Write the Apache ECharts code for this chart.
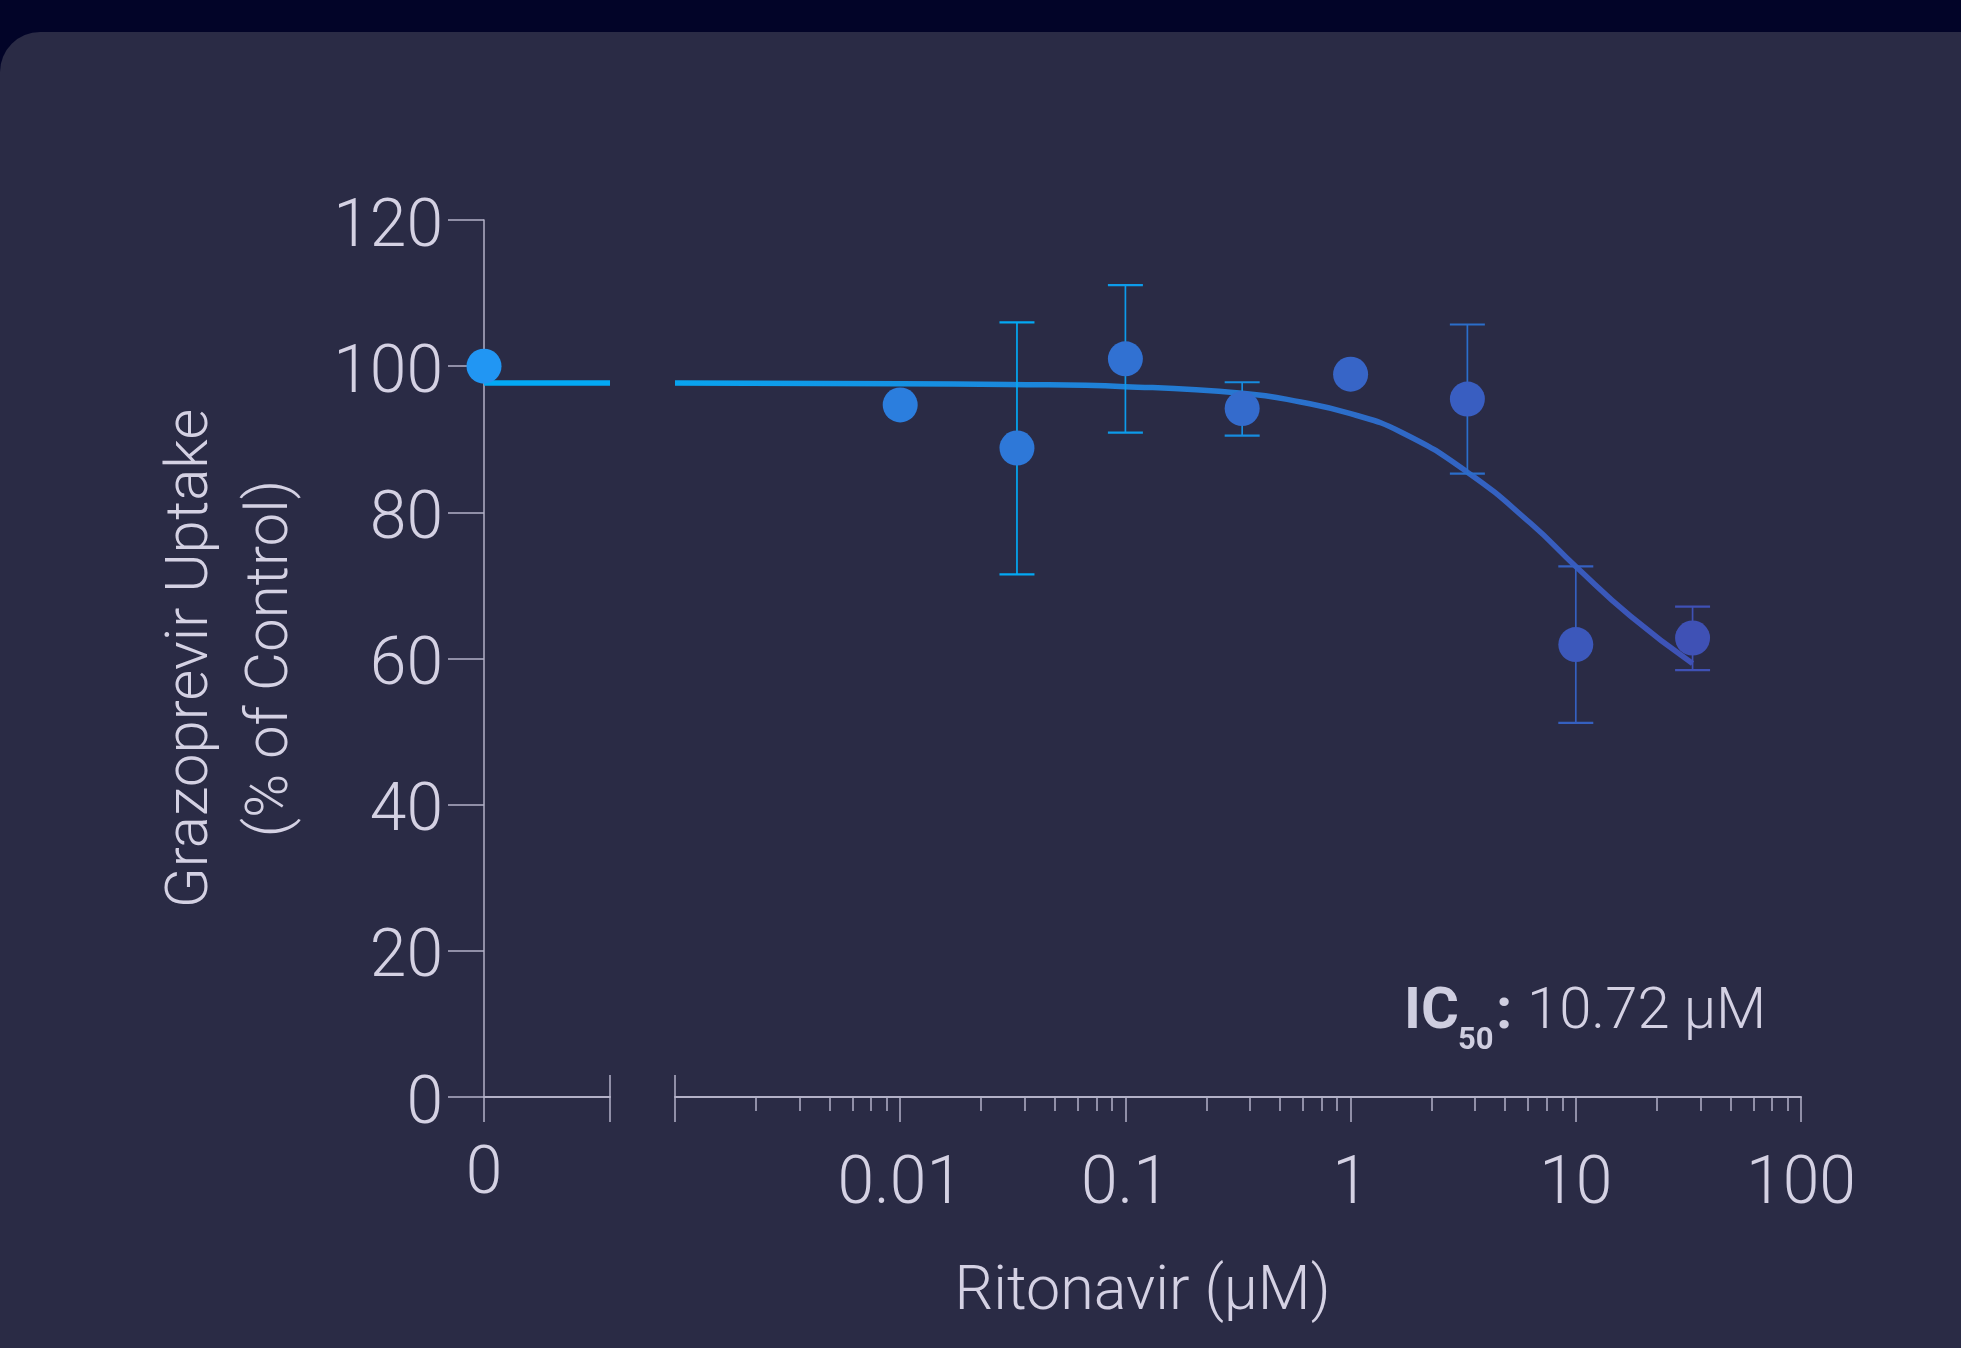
<!DOCTYPE html>
<html>
<head>
<meta charset="utf-8">
<title>Grazoprevir uptake vs ritonavir</title>
<script src="https://cdn.jsdelivr.net/npm/echarts@6.0.0/dist/echarts.min.js"></script>
<style>
  html, body { margin: 0; padding: 0; background: #020428; overflow: hidden; }
  #panel { position: absolute; left: 0; top: 32px; width: 2100px; height: 1400px;
           background: #2a2b45; border-top-left-radius: 40px; }
  #chart { position: absolute; left: 0; top: 0; width: 1961px; height: 1348px; }
</style>
</head>
<body>
<div id="panel"></div>
<div id="chart"></div>
<script>
  // vehicle control (0 µM), drawn on its own short axis segment
  var controlX = [0];
  var controlY = [100.0];
  var controlFitX = [0, 1];
  var controlFitY = [97.7, 97.7];

  // ritonavir concentrations (µM) and uptake (% of control)
  var concX = [0.01, 0.033, 0.1, 0.33, 1, 3.3, 10, 33];
  var meanY = [94.7, 88.8, 101.0, 94.2, 98.9, 95.5, 61.9, 62.8];
  var errLow = [null, 71.5, 90.9, 90.5, null, 85.3, 51.2, 58.4];
  var errHigh = [null, 106.0, 111.1, 97.8, null, 105.7, 72.6, 67.1];

  // fitted curve
  var fitX = [0.001, 0.01, 0.03, 0.1, 0.33, 0.6, 1, 1.67, 3.3, 6.3, 10, 17.5, 33];
  var fitY = [97.7, 97.6, 97.5, 97.2, 96.3, 95.1, 93.5, 91.0, 85.5, 78.5, 72.6, 65.8, 59.3];

  var xTickLabels = ['0.01', '0.1', '1', '10', '100'];
  var ic50Label = '10.72 µM';

  var textColor = '#d4d1e3';
  var axisColor = '#b3b1c7';
  var fontFamily = 'Roboto, "Noto Sans", sans-serif';

  function mix(a, b, t) {
    t = Math.max(0, Math.min(1, t));
    var ca = [parseInt(a.slice(1, 3), 16), parseInt(a.slice(3, 5), 16), parseInt(a.slice(5, 7), 16)];
    var cb = [parseInt(b.slice(1, 3), 16), parseInt(b.slice(3, 5), 16), parseInt(b.slice(5, 7), 16)];
    var out = '#';
    for (var i = 0; i < 3; i++) {
      var v = Math.round(ca[i] + (cb[i] - ca[i]) * t);
      out += (v < 16 ? '0' : '') + v.toString(16);
    }
    return out;
  }
  // colour ramp across the plot: the 0 segment counts as ~0.85 decade before 0.001
  function pointColor(x) {
    var t = (Math.log10(x) + 3 + 0.85) / (Math.log10(33) + 3 + 0.85);
    return mix('#2196F3', '#3F51B5', t);
  }
  function barColor(x) {
    var t = (Math.log10(x) - Math.log10(0.033)) / (Math.log10(33) - Math.log10(0.033));
    return mix('#03A9F4', '#3F51B5', t);
  }

  var pointData = concX.map(function (x, i) { return [x, meanY[i]]; });
  var fitData = fitX.map(function (x, i) { return [x, fitY[i]]; });
  var controlData = controlX.map(function (x, i) { return [x, controlY[i]]; });
  var controlFitData = controlFitX.map(function (x, i) { return [x, controlFitY[i]]; });
  var errData = [];
  concX.forEach(function (x, i) {
    if (errLow[i] != null) errData.push([x, errLow[i], errHigh[i]]);
  });

  var chart = echarts.init(document.getElementById('chart'));

  var labelStyle = { color: textColor, fontSize: 66, fontWeight: 300, fontFamily: fontFamily };
  var tickStyle = { color: axisColor, width: 1.5 };

  var option = {
    animation: false,
    grid: [
      { left: 484, right: 160, top: 220, bottom: 251 },   // whole plot, carries the titles
      { left: 484, right: 1351, top: 220, bottom: 251 },  // 0 segment
      { left: 675, right: 160, top: 220, bottom: 251 }    // log segment
    ],
    xAxis: [
      {
        gridIndex: 0, type: 'value', min: 0, max: 1, position: 'bottom',
        axisLine: { show: false }, axisTick: { show: false }, axisLabel: { show: false },
        splitLine: { show: false },
        name: 'Ritonavir (µM)', nameLocation: 'middle', nameGap: 166,
        nameTextStyle: { color: textColor, fontSize: 61, fontWeight: 300, fontFamily: fontFamily }
      },
      {
        gridIndex: 1, type: 'value', min: 0, max: 1, interval: 1, position: 'bottom',
        axisLine: { lineStyle: { color: axisColor, width: 2 } },
        axisTick: { length: 25, lineStyle: tickStyle },
        axisLabel: Object.assign({ margin: 46, formatter: function (v) { return v === 0 ? '0' : ''; } }, labelStyle),
        splitLine: { show: false }
      },
      {
        gridIndex: 1, type: 'value', min: 0, max: 1, position: 'bottom',
        axisLine: { show: false }, axisLabel: { show: false }, splitLine: { show: false },
        axisTick: { inside: true, customValues: [1], length: 22, lineStyle: tickStyle }
      },
      {
        gridIndex: 2, type: 'log', logBase: 10, min: 0.001, max: 100, position: 'bottom',
        axisLine: { lineStyle: { color: axisColor, width: 2 } },
        axisTick: { length: 25, lineStyle: tickStyle },
        minorTick: { show: true, splitNumber: 7, length: 14, lineStyle: tickStyle },
        axisLabel: Object.assign({
          margin: 56,
          formatter: function (v) {
            var s = String(+(+v).toPrecision(6));
            return xTickLabels.indexOf(s) >= 0 ? s : '';
          }
        }, labelStyle),
        splitLine: { show: false }, minorSplitLine: { show: false }
      },
      {
        gridIndex: 2, type: 'value', min: 0, max: 1, position: 'bottom',
        axisLine: { show: false }, axisLabel: { show: false }, splitLine: { show: false },
        axisTick: { inside: true, customValues: [0], length: 22, lineStyle: tickStyle }
      }
    ],
    yAxis: [
      {
        gridIndex: 0, type: 'value', min: 0, max: 120, interval: 20,
        axisLine: { show: true, lineStyle: { color: axisColor, width: 1.5 } },
        axisTick: { show: true, length: 36, lineStyle: tickStyle },
        axisLabel: Object.assign({ margin: 41, verticalAlign: 'top', lineHeight: 18 }, labelStyle),
        splitLine: { show: false },
        name: 'Grazoprevir Uptake\n(% of Control)', nameLocation: 'middle', nameGap: 172,
        nameTextStyle: { color: textColor, fontSize: 60, fontWeight: 300, fontFamily: fontFamily, lineHeight: 80 }
      },
      { gridIndex: 1, type: 'value', min: 0, max: 120, show: false },
      { gridIndex: 2, type: 'value', min: 0, max: 120, show: false }
    ],
    series: [
      {
        name: 'fit (control)', type: 'line', xAxisIndex: 1, yAxisIndex: 1,
        data: controlFitData, symbol: 'none', clip: false, z: 2,
        lineStyle: { color: '#03A9F4', width: 5.5 }
      },
      {
        name: 'fit', type: 'line', xAxisIndex: 3, yAxisIndex: 2,
        data: fitData, symbol: 'none', smooth: 0.5, clip: false, z: 2,
        lineStyle: {
          width: 5.5,
          color: new echarts.graphic.LinearGradient(0, 0, 1, 0, [
            { offset: 0, color: '#08A4F0' },
            { offset: 1, color: '#3F51B5' }
          ])
        }
      },
      {
        name: 'SD', type: 'custom', xAxisIndex: 3, yAxisIndex: 2, clip: false, z: 3,
        data: errData,
        renderItem: function (params, api) {
          var x = api.value(0);
          var lo = api.coord([x, api.value(1)]);
          var hi = api.coord([x, api.value(2)]);
          var c = barColor(x);
          var half = 17.5;
          return {
            type: 'group',
            children: [
              { type: 'line', shape: { x1: lo[0], y1: lo[1], x2: hi[0], y2: hi[1] }, style: { stroke: c, lineWidth: 1.7 } },
              { type: 'line', shape: { x1: hi[0] - half, y1: hi[1], x2: hi[0] + half, y2: hi[1] }, style: { stroke: c, lineWidth: 2.2 } },
              { type: 'line', shape: { x1: lo[0] - half, y1: lo[1], x2: lo[0] + half, y2: lo[1] }, style: { stroke: c, lineWidth: 2.2 } }
            ]
          };
        }
      },
      {
        name: 'mean', type: 'scatter', xAxisIndex: 3, yAxisIndex: 2, clip: false, z: 4,
        data: pointData, symbolSize: 35,
        itemStyle: { opacity: 1, color: function (p) { return pointColor(p.value[0]); } }
      },
      {
        name: 'control', type: 'scatter', xAxisIndex: 1, yAxisIndex: 1, clip: false, z: 4,
        data: controlData, symbolSize: 35,
        itemStyle: { opacity: 1, color: '#2196F3' }
      }
    ],
    graphic: [
      {
        type: 'text', left: 1404, top: 984, z: 10,
        style: { text: 'IC', fill: '#cfcee0', font: 'bold 58px ' + fontFamily }
      },
      {
        type: 'text', left: 1458, top: 1026, z: 10,
        style: { text: '50', fill: '#cfcee0', font: 'bold 31px ' + fontFamily }
      },
      {
        type: 'text', left: 1496, top: 984, z: 10,
        style: { text: ':', fill: '#cfcee0', font: 'bold 58px ' + fontFamily }
      },
      {
        type: 'text', left: 1527, top: 984, z: 10,
        style: { text: ic50Label, fill: textColor, font: '300 58px ' + fontFamily }
      }
    ]
  };

  chart.setOption(option);
</script>
</body>
</html>
